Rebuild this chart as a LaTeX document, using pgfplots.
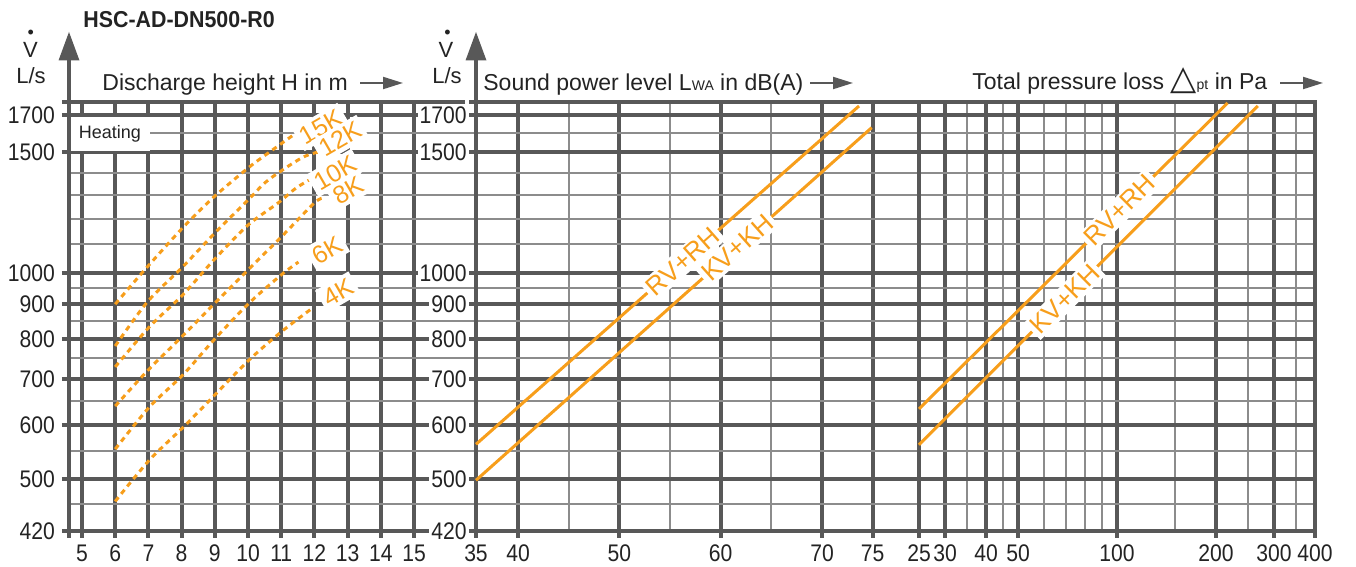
\documentclass[border=0pt]{standalone}
\usepackage{pgfplots}
\pgfplotsset{compat=1.18}
\usepackage{fontspec}
\setmainfont{Liberation Sans}
\newfontfamily\tickfont{Liberation Sans}[FakeStretch=0.88]
\newfontfamily\titlefont{Liberation Sans}[FakeStretch=0.93]
\newfontfamily\dejavu{DejaVu Sans}
\usetikzlibrary{arrows.meta}
\definecolor{gthick}{RGB}{88,88,88}
\definecolor{gthin}{RGB}{140,140,140}
\definecolor{org}{RGB}{247,158,27}
\definecolor{txt}{RGB}{35,35,35}
\pgfplotsset{
  every axis/.append style={
    scale only axis, height=214.5pt,
    ymin=420, ymax=1776,
    axis line style={line width=2pt, gthick},
    tick align=outside, tick pos=left,
    major tick length=3.5pt, minor tick length=0pt,
    tick style={line width=2pt, gthick},
    grid=both,
    major grid style={line width=2pt, gthick},
    minor grid style={line width=1pt, gthin},
    ytick={420,500,600,700,800,900,1000,1500,1700,1776},
    minor ytick={460,550,650,750,850,950,1100,1200,1300,1400,1600},
    ticklabel style={font=\tickfont\fontsize{12}{14}\selectfont, text=txt},
    clip=false,
  },
}
\tikzset{
  kcurve/.style={org, line width=1.5pt, dash pattern=on 2.6pt off 2.2pt, smooth},
  vline/.style={org, line width=1.5pt},
  vlab/.style={sloped, fill=white, text=org, inner sep=1.5pt, font=\fontsize{13}{14}\selectfont},
}
\begin{document}
\begin{tikzpicture}
\useasboundingbox (0,0) rectangle (678pt,283.5pt);

% ---------------- Panel 1: discharge height ----------------
\begin{axis}[ymode=log, at={(34.5pt,18pt)}, anchor=south west, width=203.5pt,
  xmin=4.608, xmax=16.867,
  xtick={4.608,5,6,7,8,9,10,11,12,13,14,15},
  xticklabels={{},5,6,7,8,9,10,11,12,13,14,15},
  yticklabels={420,500,600,700,800,900,1000,1500,1700,{}},
]
\addplot[kcurve] coordinates {(6,900) (6.88,1009) (8.03,1163) (8.97,1290) (10,1422) (10.61,1496) (11.45,1600)};
\addplot[kcurve] coordinates {(6,782) (6.97,907) (8.03,1020) (9.03,1147) (10,1277) (10.61,1366) (11.61,1471) (12.12,1501)};
\addplot[kcurve] coordinates {(6,729) (7.03,834) (8.03,928) (8.97,1044) (10,1174) (10.91,1265) (11.45,1330) (12,1380)};
\addplot[kcurve] coordinates {(6,639) (7,722) (8,806) (9,903) (10,1010) (11,1128) (12,1265) (12.27,1286)};
\addplot[kcurve] coordinates {(6,553) (7.03,637) (8.03,709) (8.97,798) (10.03,903) (11,993) (11.52,1037)};
\addplot[kcurve] coordinates {(6,464) (7.03,533) (8.06,596) (8.97,661) (10.03,746) (11,820) (11.91,886)};
\end{axis}

\begin{scope}[x=0.5pt, y=-0.5pt, shift={(0pt,283.5pt)}]
  \fill[white] (71,117.5) rectangle (149.5,151);
  \node[text=txt, font=\fontsize{9}{10}\selectfont] at (110,134) {Heating};
  \foreach \t/\px/\py in {15K/321/127, 12K/340/139, 10K/335/173, 8K/348/190, 6K/327/250, 4K/338/292}
    \node[rotate=30, fill=white, text=org, inner sep=2pt, font=\fontsize{12.5}{13}\selectfont] at (\px,\py) {\t};
\end{scope}

% ---------------- Panel 2: sound power level ----------------
\begin{axis}[ymode=log, at={(238pt,18pt)}, anchor=south west, width=221.5pt,
  xmin=35.855, xmax=79.57,
  xtick={35.855,40,50,60,70,75},
  xticklabels={35,40,50,60,70,75},
  minor xtick={45,55,65},
  yticklabels={420,500,600,700,800,900,1000,1500,1700,{}},
  yticklabel style={fill=white, inner sep=1pt},
]
\addplot[vline] coordinates {(35.855,562) (73.65,1752)} node[vlab, pos=0.54] {RV+RH};
\addplot[vline] coordinates {(35.855,498) (74.9,1629)} node[vlab, pos=0.66] {KV+KH};
\end{axis}

% ---------------- Panel 3: total pressure loss ----------------
\begin{axis}[xmode=log, ymode=log, at={(459.5pt,18pt)}, anchor=south west, width=198pt,
  xmin=25, xmax=400,
  xtick={25,30,40,50,100,200,300,400},
  xticklabels={25,30,40,50,100,200,300,400},
  minor xtick={35,45,60,70,80,90,150,250,350},
  yticklabels={{},{},{},{},{},{},{},{},{},{}},
]
\addplot[vline] coordinates {(25,633) (217,1770)} node[vlab, pos=0.65] {RV+RH};
\addplot[vline] coordinates {(25,561) (268,1752)} node[vlab, pos=0.43] {KV+KH};
\end{axis}

% ---------------- annotations ----------------
\begin{scope}[x=0.5pt, y=-0.5pt, shift={(0pt,283.5pt)}]
  \draw[line width=2pt, gthick] (69,104) -- (69,58);
  \fill[gthick] (58.5,60.5) -- (79.5,60.5) -- (69,32) -- cycle;
  \draw[line width=2pt, gthick] (476,104) -- (476,58);
  \fill[gthick] (465.5,60.5) -- (486.5,60.5) -- (476,32) -- cycle;
  \node[anchor=base west, inner sep=0pt, text=txt, font=\titlefont\bfseries\fontsize{11.5}{13}\selectfont] at (83,28) {HSC-AD-DN500-R0};
  \node[text=txt, font=\fontsize{11}{12}\selectfont] at (30.5,49.5) {V};
  \node[text=txt, font=\fontsize{9}{9}\selectfont] at (30.7,34) {•};
  \node[text=txt, font=\fontsize{11}{12}\selectfont] at (31,76) {L/s};
  \node[text=txt, font=\fontsize{11}{12}\selectfont] at (446,49.5) {V};
  \node[text=txt, font=\fontsize{9}{9}\selectfont] at (447.5,34) {•};
  \node[text=txt, font=\fontsize{11}{12}\selectfont] at (447,76) {L/s};
  \node[anchor=base west, inner sep=0pt, text=txt, font=\fontsize{11.5}{13}\selectfont] at (102,91) {Discharge height H in m};
  \draw[line width=1pt, gthick, -{Triangle[length=10pt,width=6pt]}] (360,83) -- (403,83);
  \node[anchor=base west, inner sep=0pt, text=txt, font=\fontsize{11.5}{13}\selectfont] at (483,91) {Sound power level L{\fontsize{7}{8}\selectfont WA} in dB(A)};
  \draw[line width=1pt, gthick, -{Triangle[length=10pt,width=6pt]}] (810,83) -- (853,83);
  \node[anchor=base west, inner sep=0pt, text=txt, font=\fontsize{11.5}{13}\selectfont] at (972,90) {Total pressure loss {\dejavu\fontsize{17}{18}\selectfont △}{\fontsize{7}{8}\selectfont pt} in Pa};
  \draw[line width=1pt, gthick, -{Triangle[length=10pt,width=6pt]}] (1280,83) -- (1323,83);
\end{scope}
\end{tikzpicture}
\end{document}
